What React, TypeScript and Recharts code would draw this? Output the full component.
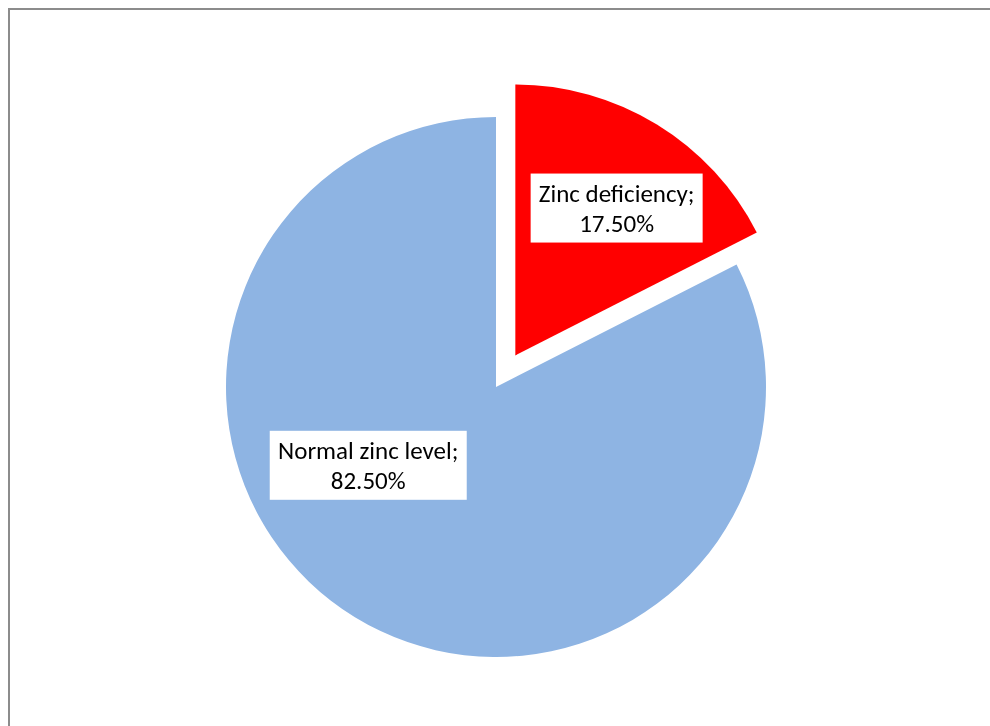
import { PieChart, Pie, Cell } from 'recharts'

const categories = ['Zinc deficiency', 'Normal zinc level']
const shares = [17.5, 82.5]
const labelTexts = ['17.50%', '82.50%']

const colors = ['#FF0000', '#8EB4E3']

const data = categories.map((name, i) => ({ name, value: shares[i], pct: labelTexts[i] }))

// where Excel put the label boxes (angle in deg, fraction of radius)
const labelSpots = [
  { angle: 55.5, r: 0.66, w: 172 },
  { angle: 211.5, r: 0.555, w: 197 },
]

const CX = 488
const CY = 379
const R = 270
const EXPLODE = 37

function makeLabel(onlyIndex: number) {
  return (props: any) => {
    const { cx, cy, outerRadius, index } = props
    if (index !== onlyIndex) return null
    const spot = labelSpots[index]
    const rad = (spot.angle * Math.PI) / 180
    const x = cx + Math.cos(rad) * outerRadius * spot.r
    const y = cy - Math.sin(rad) * outerRadius * spot.r
    const h = 69
    return (
      <g>
        <rect x={x - spot.w / 2} y={y - h / 2} width={spot.w} height={h} fill="#fff" />
        <text
          x={x}
          textAnchor="middle"
          fontFamily="Carlito, Lato, sans-serif"
          fontSize={25}
          fill="#000"
        >
          <tspan x={x} y={y - h / 2 + 28}>{`${data[index].name};`}</tspan>
          <tspan x={x} y={y - h / 2 + 58}>{data[index].pct}</tspan>
        </text>
      </g>
    )
  }
}

export default function App() {
  const startAngle = 90
  const redMid = startAngle - (shares[0] / (shares[0] + shares[1])) * 180
  const redRad = (redMid * Math.PI) / 180
  const redCx = CX + Math.cos(redRad) * EXPLODE
  const redCy = CY - Math.sin(redRad) * EXPLODE

  return (
    <div style={{ position: 'fixed', left: 8, top: 8, width: 982, height: 718 }}>
      <div
        style={{
          position: 'absolute',
          inset: 0,
          borderTop: '2px solid #8c8c8c',
          borderLeft: '2px solid #8c8c8c',
          boxSizing: 'border-box',
        }}
      />
      <div style={{ position: 'absolute', left: 0, top: 0 }}>
        <PieChart width={982} height={718} margin={{ top: 0, right: 0, bottom: 0, left: 0 }}>
          <Pie
            data={data}
            dataKey="value"
            cx={CX}
            cy={CY}
            outerRadius={R}
            startAngle={90}
            endAngle={-270}
            stroke="none"
            label={makeLabel(1)}
            labelLine={false}
            isAnimationActive={false}
          >
            {data.map((d, i) => (
              <Cell key={d.name} fill={i === 1 ? colors[1] : 'none'} />
            ))}
          </Pie>
          <Pie
            data={data}
            dataKey="value"
            cx={redCx}
            cy={redCy}
            outerRadius={R + 1}
            startAngle={90}
            endAngle={-270}
            stroke="none"
            label={makeLabel(0)}
            labelLine={false}
            isAnimationActive={false}
          >
            {data.map((d, i) => (
              <Cell key={d.name} fill={i === 0 ? colors[0] : 'none'} />
            ))}
          </Pie>
        </PieChart>
      </div>
    </div>
  )
}
